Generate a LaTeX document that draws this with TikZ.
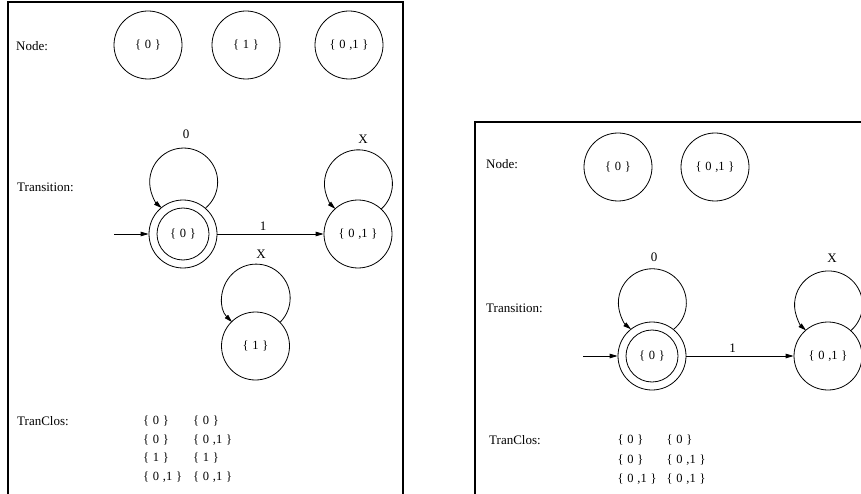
\documentclass[tikz,border=0pt]{standalone}
\usepackage{fontspec}
\setmainfont{Liberation Serif}
\usetikzlibrary{arrows.meta,calc}
% a set written with loose spacing, e.g. { 0 }
\newcommand\sset[1]{\{\hspace{0.3em}#1\hspace{0.3em}\}}
\newcommand\zo{0\hspace{0.3em},1}
% self loop: a circular arc of radius 34 whose centre lies #2 above node #1
\newcommand\selfloop[2]{%
  \pgfmathsetmacro\loopang{asin(#2/68)}%
  \draw[tr] (#1.\loopang) arc[start angle=\loopang, end angle=-180-\loopang, radius=34];}
\begin{document}
\begin{tikzpicture}[x=1pt,y=-1pt,
  state/.style={circle,draw,line width=0.8pt,minimum size=68pt,inner sep=0pt,
    font=\fontsize{12.5}{14}\selectfont},
  lbl/.style={font=\fontsize{13}{15}\selectfont,inner sep=0pt},
  head/.style={anchor=west,font=\fontsize{13}{15}\selectfont,inner sep=0pt},
  setx/.style={anchor=west,font=\fontsize{12.5}{14}\selectfont,inner sep=0pt},
  frame/.style={line width=2pt},
  tr/.style={line width=0.8pt,-{Triangle[length=8pt,width=4.5pt]}},
]
\useasboundingbox (0,0) rectangle (861,494);

% ---------- left panel ----------
\draw[frame] (8,494) -- (8,2) -- (403,2) -- (403,494);

\node[head] (nodeL) at (16,46) {Node:};
\node[state] (a0) at (148,45) {\sset{0}};
\node[state] (a1) at (246,45) {\sset{1}};
\node[state] (a01) at (349,45) {\sset{\zo}};

\node[head] (transL) at (17,187) {Transition:};
\node[state] (t0) at (183,234) {\sset{0}};
\draw[line width=0.8pt] (t0) circle[radius=26];
\node[state] (t01) at (358,234) {\sset{\zo}};
\node[state] (t1) at (255.5,346) {\sset{1}};

\coordinate (in0) at (114,234);
\draw[tr] (in0) -- (t0);
\draw[tr] (t0) -- node[lbl,above=3.5pt,pos=0.43] (lab1) {1} (t01);

\selfloop{t0}{52}
\selfloop{t01}{50}
\selfloop{t1}{48}
\node[lbl] (lab0) at (186,134) {0};
\node[lbl] (labx1) at (363,139) {X};
\node[lbl] (labx2) at (261,254) {X};

\node[head] (tcL) at (17,421) {TranClos:};
\node[setx] (l11) at (143,421) {\sset{0}};
\node[setx] (l12) at (193,421) {\sset{0}};
\node[setx] (l21) at (143,440) {\sset{0}};
\node[setx] (l22) at (193,440) {\sset{\zo}};
\node[setx] (l31) at (143,458) {\sset{1}};
\node[setx] (l32) at (193,458) {\sset{1}};
\node[setx] (l41) at (143,477) {\sset{\zo}};
\node[setx] (l42) at (193,477) {\sset{\zo}};

% ---------- right panel ----------
\draw[frame] (475,494) -- (475,122) -- (861,122);

\node[head] (nodeR) at (486,164) {Node:};
\node[state] (b0) at (618,167) {\sset{0}};
\node[state] (b01) at (715,167) {\sset{\zo}};

\node[head] (transR) at (486,308) {Transition:};
\node[state] (r0) at (652,356) {\sset{0}};
\draw[line width=0.8pt] (r0) circle[radius=26];
\node[state] (r01) at (828,356) {\sset{\zo}};

\coordinate (in1) at (583,356);
\draw[tr] (in1) -- (r0);
\draw[tr] (r0) -- node[lbl,above=3.5pt,pos=0.43] (lab2) {1} (r01);

\selfloop{r0}{53}
\selfloop{r01}{51}
\node[lbl] (lab3) at (654,257) {0};
\node[lbl] (labx3) at (832,258) {X};

\node[head] (tcR) at (489,440) {TranClos:};
\node[setx] (m11) at (617.5,440) {\sset{0}};
\node[setx] (m12) at (666.5,440) {\sset{0}};
\node[setx] (m21) at (617.5,460) {\sset{0}};
\node[setx] (m22) at (666.5,460) {\sset{\zo}};
\node[setx] (m31) at (617.5,479) {\sset{\zo}};
\node[setx] (m32) at (666.5,479) {\sset{\zo}};
\end{tikzpicture}
\end{document}
